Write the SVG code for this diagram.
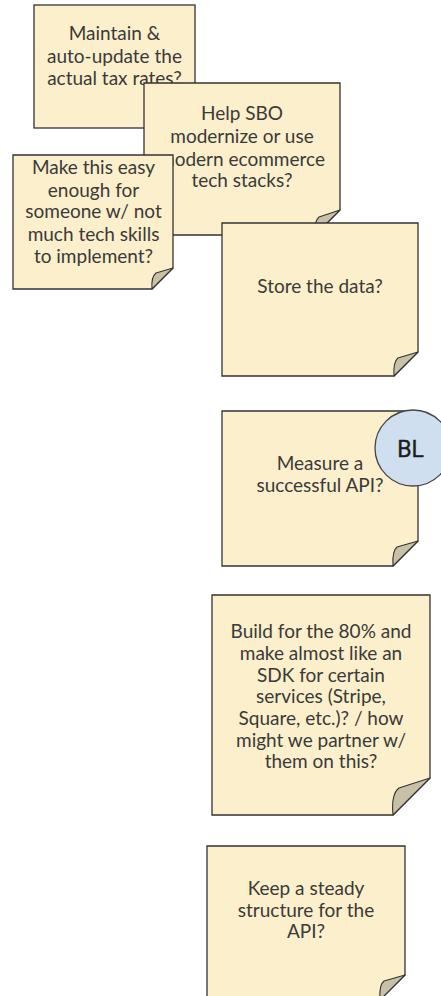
<svg xmlns="http://www.w3.org/2000/svg" width="441" height="996" viewBox="0 0 441 996">
<style>
.note{fill:#fcefcb;stroke:#333;stroke-width:1.3}
.flap{fill:#c8c1a8;stroke:#333;stroke-width:1.1;stroke-linejoin:round}
.t{font-family:Lato,"Noto Sans",sans-serif;font-size:19px;fill:#3a3a3a;text-anchor:middle}
.bl{font-family:Roboto,"Liberation Sans",sans-serif;font-size:23px;font-weight:400;fill:#1e1e1e;stroke:#1e1e1e;stroke-width:0.4;text-anchor:middle}
.badge{fill:#cfdff0;stroke:#444;stroke-width:1.3}
</style>
<rect width="441" height="996" fill="#fff"/>
<g id="n1">
<rect class="note" x="34" y="5" width="161" height="123"/>
<text class="t" x="114.5" y="40">Maintain &amp;</text>
<text class="t" x="114.5" y="63">auto-update the</text>
<text class="t" x="114.5" y="85">actual tax rates?</text>
</g>
<g id="n2">
<path class="note" d="M144,83 H340 V210 L315,235 H144 Z"/>
<path class="flap" d="M315,235 Q314,221 319,217 L340,210 Z"/>
<text class="t" x="242" y="120">Help SBO</text>
<text class="t" x="242" y="143">modernize or use</text>
<text class="t" x="242" y="166">modern ecommerce</text>
<text class="t" x="242" y="187">tech stacks?</text>
</g>
<g id="n3">
<path class="note" d="M13,155 H173 V268 L152,289 H13 Z"/>
<path class="flap" d="M152,289 Q151,277 156,273 L173,268 Z"/>
<text class="t" x="93.5" y="174">Make this easy</text>
<text class="t" x="93.5" y="197">enough for</text>
<text class="t" x="93.5" y="218">someone w/ not</text>
<text class="t" x="93.5" y="241">much tech skills</text>
<text class="t" x="93.5" y="263">to implement?</text>
</g>
<g id="n4">
<path class="note" d="M222,223 H418 V352 L394,376 H222 Z"/>
<path class="flap" d="M394,376 Q393,362 398,358 L418,352 Z"/>
<text class="t" x="320" y="293">Store the data?</text>
</g>
<g id="n5">
<path class="note" d="M222,411 H418 V541 L393,566 H222 Z"/>
<path class="flap" d="M393,566 Q392,551 397,547 L418,541 Z"/>
<text class="t" x="320" y="470">Measure a</text>
<text class="t" x="320" y="492">successful API?</text>
</g>
<g id="bl">
<circle class="badge" cx="413" cy="448" r="38"/>
<text class="bl" x="410.5" y="457">BL</text>
</g>
<g id="n6">
<path class="note" d="M212,595 H430 V778 L393,815 H212 Z"/>
<path class="flap" d="M393,815 Q391,794 399,788 L430,778 Z"/>
<text class="t" x="321" y="638">Build for the 80% and</text>
<text class="t" x="321" y="660">make almost like an</text>
<text class="t" x="321" y="682">SDK for certain</text>
<text class="t" x="321" y="703">services (Stripe,</text>
<text class="t" x="321" y="725">Square, etc.)? / how</text>
<text class="t" x="321" y="747">might we partner w/</text>
<text class="t" x="321" y="768">them on this?</text>
</g>
<g id="n7">
<path class="note" d="M207,846 H405 V975 L380,1000 H207 Z"/>
<path class="flap" d="M380,1000 Q379,985 384,981 L405,975 Z"/>
<text class="t" x="306" y="895">Keep a steady</text>
<text class="t" x="306" y="917">structure for the</text>
<text class="t" x="306" y="938">API?</text>
</g>
<g id="connectors"></g>
</svg>
